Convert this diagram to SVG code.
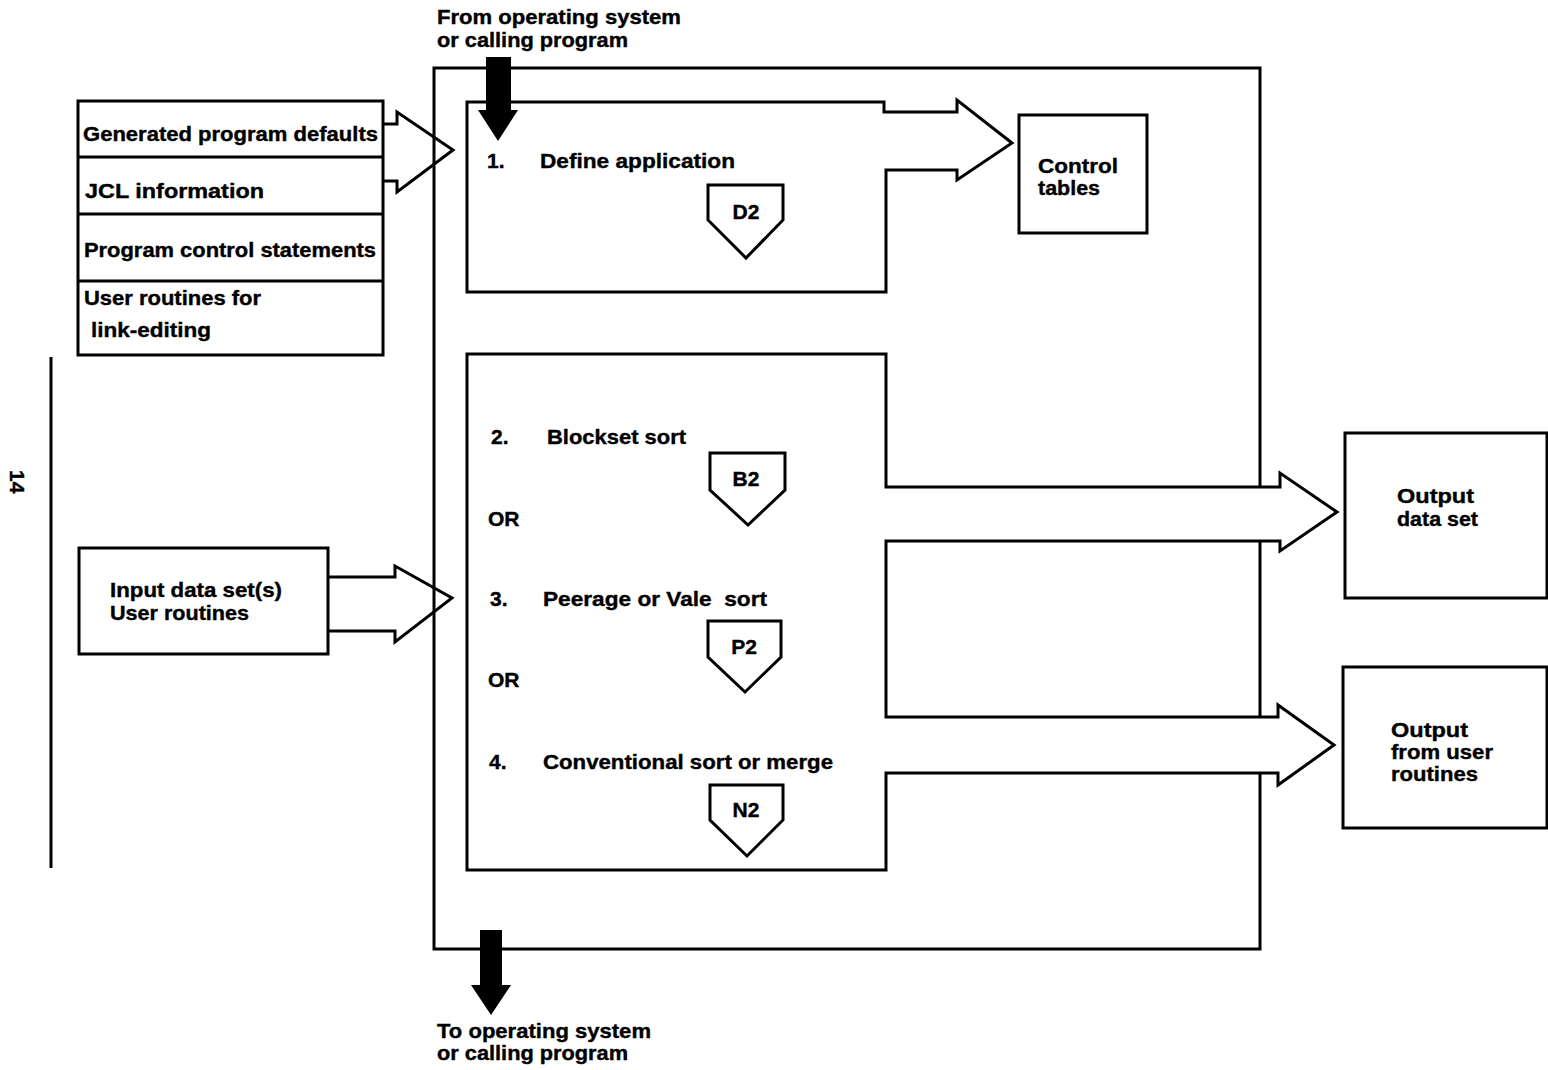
<svg xmlns="http://www.w3.org/2000/svg" width="1548" height="1070" viewBox="0 0 1548 1070">
<style>
.ln{fill:none;stroke:#000;stroke-width:3;stroke-linejoin:miter}
.wf{fill:#fff;stroke:#000;stroke-width:3;stroke-linejoin:miter}
.bk{fill:#000;stroke:none}
text{font-family:"Liberation Sans",Arial,sans-serif;font-weight:bold;font-size:21px;fill:#000;stroke:#000;stroke-width:0.4}
</style>
<rect width="1548" height="1070" fill="#fff"/>
<g id="outer-box"><rect class="ln" x="434" y="68" width="826" height="881"/></g>
<g id="page-mark">
<line class="ln" x1="51" y1="357" x2="51" y2="868"/>
<text transform="translate(10,470) rotate(90)" font-size="20">14</text>
</g>
<g id="step1">
<path class="wf" d="M467,102 L884,102 L884,112 L957,112 L957,100 L1012,143 L957,180 L957,170 L886,170 L886,292 L467,292 Z"/>
<text x="487" y="168">1.</text>
<text x="540" y="168" textLength="195" lengthAdjust="spacingAndGlyphs">Define application</text>
<path class="ln" d="M708,185 L783,185 L783,220 L746,258 L708,220 Z"/>
<text x="746" y="219" text-anchor="middle">D2</text>
</g>
<g id="control-tables">
<rect class="ln" x="1019" y="115" width="128" height="118"/>
<text x="1038" y="173" textLength="80" lengthAdjust="spacingAndGlyphs">Control</text>
<text x="1038" y="195" textLength="62" lengthAdjust="spacingAndGlyphs">tables</text>
</g>
<g id="step2-4">
<path class="wf" d="M467,354 L886,354 L886,487 L1280,487 L1280,473 L1337,512 L1280,551 L1280,541 L886,541 L886,717 L1278,717 L1278,705 L1334,745 L1278,785 L1278,773 L886,773 L886,870 L467,870 Z"/>
<text x="491" y="444">2.</text>
<text x="547" y="444" textLength="139" lengthAdjust="spacingAndGlyphs">Blockset sort</text>
<path class="ln" d="M710,453 L785,453 L785,490 L748,525 L710,490 Z"/>
<text x="746" y="486" text-anchor="middle">B2</text>
<text x="488" y="526">OR</text>
<text x="490" y="606">3.</text>
<text x="543" y="606" textLength="224" lengthAdjust="spacingAndGlyphs" xml:space="preserve">Peerage or Vale  sort</text>
<path class="ln" d="M708,621 L781,621 L781,657 L745,692 L708,657 Z"/>
<text x="744" y="654" text-anchor="middle">P2</text>
<text x="488" y="687">OR</text>
<text x="489" y="769">4.</text>
<text x="543" y="769" textLength="290" lengthAdjust="spacingAndGlyphs">Conventional sort or merge</text>
<path class="ln" d="M710,785 L783,785 L783,820 L747,856 L710,820 Z"/>
<text x="746" y="817" text-anchor="middle">N2</text>
</g>
<g id="inputs-stack">
<rect class="ln" x="78" y="101" width="305" height="254"/>
<line class="ln" x1="78" y1="157" x2="383" y2="157"/>
<line class="ln" x1="78" y1="214" x2="383" y2="214"/>
<line class="ln" x1="78" y1="281" x2="383" y2="281"/>
<text x="83" y="141" textLength="295" lengthAdjust="spacingAndGlyphs">Generated program defaults</text>
<text x="85" y="198" textLength="179" lengthAdjust="spacingAndGlyphs">JCL information</text>
<text x="84" y="257" textLength="292" lengthAdjust="spacingAndGlyphs">Program control statements</text>
<text x="84" y="305" textLength="177" lengthAdjust="spacingAndGlyphs">User routines for</text>
<text x="91" y="337" textLength="120" lengthAdjust="spacingAndGlyphs">link-editing</text>
</g>
<g id="input-data">
<rect class="ln" x="79" y="548" width="249" height="106"/>
<text x="110" y="597" textLength="172" lengthAdjust="spacingAndGlyphs">Input data set(s)</text>
<text x="110" y="620" textLength="139" lengthAdjust="spacingAndGlyphs">User routines</text>
</g>
<g id="output-data-set">
<rect class="ln" x="1345" y="433" width="202" height="165"/>
<text x="1397" y="503" textLength="77" lengthAdjust="spacingAndGlyphs">Output</text>
<text x="1397" y="526" textLength="81" lengthAdjust="spacingAndGlyphs">data set</text>
</g>
<g id="output-user">
<rect class="ln" x="1343" y="667" width="204" height="161"/>
<text x="1391" y="737" textLength="77" lengthAdjust="spacingAndGlyphs">Output</text>
<text x="1391" y="759" textLength="102" lengthAdjust="spacingAndGlyphs">from user</text>
<text x="1391" y="781" textLength="87" lengthAdjust="spacingAndGlyphs">routines</text>
</g>
<g id="connectors">
<path class="ln" d="M383,124 L397,124 L397,112 L453,150 L397,192 L397,181 L383,181"/>
<path class="ln" d="M328,577 L395,577 L395,566 L452,598 L395,642 L395,631 L328,631"/>
<path class="bk" d="M486,57 L511,57 L511,110 L518,110 L498,141 L478,110 L486,110 Z"/>
<path class="bk" d="M480,930 L502,930 L502,985 L511,985 L491,1015 L471,985 L480,985 Z"/>
</g>
<g id="labels">
<text x="437" y="24" textLength="244" lengthAdjust="spacingAndGlyphs">From operating system</text>
<text x="437" y="47" textLength="191" lengthAdjust="spacingAndGlyphs">or calling program</text>
<text x="437" y="1038" textLength="214" lengthAdjust="spacingAndGlyphs">To operating system</text>
<text x="437" y="1060" textLength="191" lengthAdjust="spacingAndGlyphs">or calling program</text>
</g>
</svg>
